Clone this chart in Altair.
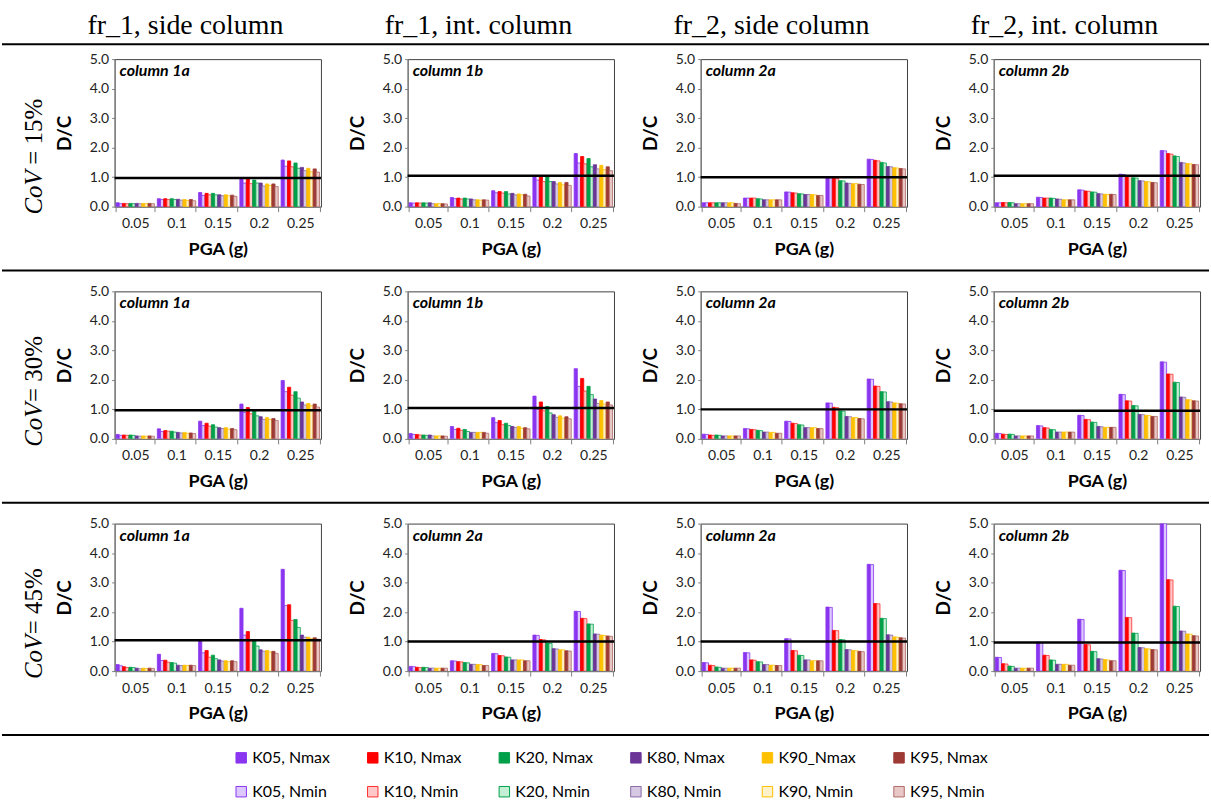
import altair as alt
import pandas as pd

pga_labels = ["0.05", "0.1", "0.15", "0.2", "0.25"]
series_names = ["K05, Nmax", "K05, Nmin", "K10, Nmax", "K10, Nmin", "K20, Nmax", "K20, Nmin",
                "K80, Nmax", "K80, Nmin", "K90_Nmax", "K90, Nmin", "K95, Nmax", "K95, Nmin"]
fill_colors = ["#8a35f0", "#dcc8ff", "#ff0000", "#ffc8c8", "#00a04a", "#c4efd4",
               "#6b3598", "#d6c8e2", "#ffc000", "#fff2c8", "#9e3a36", "#e8c8c6"]
stroke_colors = ["#8a35f0", "#8a35f0", "#ff0000", "#ff3030", "#00a04a", "#00a04a",
                 "#6b3598", "#8a6aa8", "#ffc000", "#ffc000", "#9e3a36", "#b06a66"]
col_headers = ["fr_1, side column", "fr_1, int. column", "fr_2, side column", "fr_2, int. column"]
row_cov = ["= 15%", "= 30%", "= 45%"]
panel_labels = [["column 1a", "column 1b", "column 2a", "column 2b"],
                ["column 1a", "column 1b", "column 2a", "column 2b"],
                ["column 1a", "column 2a", "column 2a", "column 2b"]]
ref_lines = [[0.97, 1.05, 1.0, 1.05],
             [0.97, 1.05, 1.0, 0.95],
             [1.05, 1.0, 1.0, 0.97]]

# values per panel: 5 PGA groups x 12 series (order of series_names)
cov15_col1a = [
    [0.13, 0.10, 0.11, 0.10, 0.11, 0.10, 0.11, 0.10, 0.11, 0.10, 0.11, 0.10],
    [0.27, 0.24, 0.27, 0.24, 0.27, 0.24, 0.25, 0.22, 0.24, 0.21, 0.24, 0.20],
    [0.48, 0.38, 0.45, 0.40, 0.45, 0.40, 0.40, 0.37, 0.40, 0.37, 0.39, 0.35],
    [0.98, 0.80, 0.96, 0.78, 0.90, 0.80, 0.80, 0.70, 0.77, 0.72, 0.77, 0.68],
    [1.58, 1.37, 1.55, 1.35, 1.48, 1.30, 1.33, 1.22, 1.30, 1.18, 1.28, 1.17]]
cov15_col1b = [
    [0.13, 0.12, 0.13, 0.12, 0.13, 0.12, 0.13, 0.10, 0.10, 0.10, 0.10, 0.09],
    [0.31, 0.27, 0.29, 0.26, 0.29, 0.26, 0.26, 0.23, 0.23, 0.22, 0.23, 0.22],
    [0.54, 0.47, 0.51, 0.46, 0.51, 0.43, 0.45, 0.40, 0.43, 0.40, 0.42, 0.36],
    [1.05, 0.90, 1.05, 0.85, 1.02, 0.85, 0.85, 0.77, 0.82, 0.74, 0.82, 0.72],
    [1.80, 1.48, 1.70, 1.45, 1.63, 1.35, 1.42, 1.28, 1.40, 1.25, 1.35, 1.22]]
cov15_col2a = [
    [0.13, 0.13, 0.13, 0.13, 0.13, 0.13, 0.13, 0.13, 0.13, 0.13, 0.11, 0.10],
    [0.29, 0.29, 0.29, 0.29, 0.27, 0.26, 0.23, 0.23, 0.23, 0.23, 0.23, 0.23],
    [0.50, 0.49, 0.47, 0.46, 0.44, 0.43, 0.41, 0.41, 0.41, 0.40, 0.38, 0.38],
    [1.00, 0.98, 0.96, 0.95, 0.88, 0.87, 0.80, 0.79, 0.78, 0.78, 0.76, 0.75],
    [1.61, 1.60, 1.57, 1.55, 1.50, 1.48, 1.36, 1.35, 1.32, 1.31, 1.29, 1.28]]
cov15_col2b = [
    [0.13, 0.13, 0.14, 0.13, 0.14, 0.13, 0.10, 0.10, 0.10, 0.10, 0.10, 0.10],
    [0.32, 0.31, 0.29, 0.29, 0.29, 0.28, 0.26, 0.25, 0.23, 0.23, 0.23, 0.23],
    [0.57, 0.56, 0.53, 0.52, 0.50, 0.49, 0.44, 0.43, 0.42, 0.41, 0.42, 0.41],
    [1.10, 1.09, 1.05, 1.04, 0.98, 0.97, 0.88, 0.87, 0.85, 0.84, 0.82, 0.81],
    [1.90, 1.89, 1.80, 1.78, 1.72, 1.70, 1.50, 1.48, 1.46, 1.45, 1.43, 1.42]]
cov30_col1a = [
    [0.15, 0.12, 0.13, 0.12, 0.13, 0.12, 0.10, 0.09, 0.10, 0.09, 0.10, 0.09],
    [0.34, 0.25, 0.28, 0.26, 0.26, 0.23, 0.22, 0.20, 0.22, 0.19, 0.20, 0.18],
    [0.60, 0.45, 0.53, 0.43, 0.48, 0.40, 0.38, 0.35, 0.38, 0.33, 0.35, 0.31],
    [1.18, 0.90, 1.06, 0.85, 0.95, 0.78, 0.75, 0.66, 0.72, 0.66, 0.69, 0.62],
    [1.98, 1.60, 1.75, 1.48, 1.60, 1.38, 1.25, 1.15, 1.20, 1.12, 1.18, 1.08]]
cov30_col1b = [
    [0.18, 0.15, 0.15, 0.13, 0.13, 0.12, 0.13, 0.10, 0.10, 0.10, 0.10, 0.09],
    [0.42, 0.32, 0.36, 0.29, 0.32, 0.25, 0.22, 0.22, 0.22, 0.22, 0.22, 0.19],
    [0.72, 0.55, 0.62, 0.48, 0.53, 0.45, 0.42, 0.39, 0.42, 0.36, 0.38, 0.34],
    [1.45, 1.00, 1.25, 0.95, 1.10, 0.88, 0.82, 0.73, 0.78, 0.70, 0.75, 0.68],
    [2.38, 1.78, 2.05, 1.62, 1.78, 1.50, 1.35, 1.20, 1.30, 1.18, 1.25, 1.15]]
cov30_col2a = [
    [0.16, 0.15, 0.13, 0.12, 0.13, 0.12, 0.10, 0.10, 0.10, 0.10, 0.10, 0.10],
    [0.35, 0.34, 0.32, 0.31, 0.29, 0.28, 0.23, 0.23, 0.22, 0.22, 0.19, 0.19],
    [0.60, 0.59, 0.53, 0.52, 0.48, 0.47, 0.38, 0.38, 0.38, 0.38, 0.35, 0.35],
    [1.22, 1.21, 1.07, 1.06, 0.95, 0.94, 0.76, 0.75, 0.72, 0.72, 0.69, 0.68],
    [2.03, 2.02, 1.79, 1.78, 1.60, 1.59, 1.26, 1.25, 1.22, 1.21, 1.19, 1.18]]
cov30_col2b = [
    [0.19, 0.18, 0.16, 0.15, 0.16, 0.15, 0.10, 0.10, 0.10, 0.10, 0.10, 0.10],
    [0.45, 0.44, 0.38, 0.37, 0.32, 0.31, 0.23, 0.23, 0.23, 0.23, 0.23, 0.23],
    [0.80, 0.79, 0.66, 0.65, 0.57, 0.56, 0.42, 0.41, 0.39, 0.39, 0.39, 0.39],
    [1.51, 1.50, 1.29, 1.28, 1.13, 1.12, 0.83, 0.82, 0.80, 0.79, 0.76, 0.76],
    [2.61, 2.60, 2.20, 2.19, 1.92, 1.91, 1.42, 1.41, 1.33, 1.32, 1.29, 1.28]]
cov45_col1a = [
    [0.22, 0.18, 0.15, 0.12, 0.13, 0.12, 0.10, 0.08, 0.10, 0.09, 0.10, 0.09],
    [0.57, 0.36, 0.37, 0.30, 0.29, 0.27, 0.20, 0.19, 0.20, 0.19, 0.20, 0.19],
    [1.02, 0.62, 0.70, 0.47, 0.54, 0.42, 0.38, 0.34, 0.35, 0.32, 0.35, 0.32],
    [2.13, 1.22, 1.34, 1.02, 1.03, 0.85, 0.72, 0.67, 0.70, 0.65, 0.67, 0.60],
    [3.45, 2.22, 2.25, 1.72, 1.75, 1.48, 1.22, 1.15, 1.15, 1.10, 1.13, 1.08]]
cov45_col2a_int = [
    [0.16, 0.15, 0.13, 0.12, 0.13, 0.12, 0.10, 0.10, 0.10, 0.10, 0.10, 0.10],
    [0.35, 0.34, 0.32, 0.31, 0.29, 0.28, 0.23, 0.23, 0.22, 0.22, 0.19, 0.19],
    [0.60, 0.59, 0.53, 0.52, 0.48, 0.47, 0.38, 0.38, 0.38, 0.38, 0.35, 0.35],
    [1.22, 1.21, 1.07, 1.06, 0.95, 0.94, 0.76, 0.75, 0.72, 0.72, 0.69, 0.68],
    [2.03, 2.02, 1.79, 1.78, 1.60, 1.59, 1.26, 1.25, 1.22, 1.21, 1.19, 1.18]]
cov45_col2a = [
    [0.29, 0.28, 0.20, 0.19, 0.14, 0.13, 0.10, 0.10, 0.10, 0.10, 0.10, 0.10],
    [0.63, 0.62, 0.38, 0.37, 0.32, 0.31, 0.22, 0.22, 0.20, 0.20, 0.19, 0.19],
    [1.10, 1.09, 0.70, 0.69, 0.54, 0.53, 0.38, 0.38, 0.35, 0.35, 0.35, 0.35],
    [2.17, 2.16, 1.38, 1.37, 1.07, 1.06, 0.73, 0.72, 0.70, 0.69, 0.67, 0.66],
    [3.62, 3.61, 2.29, 2.28, 1.79, 1.78, 1.23, 1.22, 1.16, 1.15, 1.13, 1.12]]
cov45_col2b = [
    [0.47, 0.46, 0.25, 0.24, 0.17, 0.16, 0.10, 0.10, 0.10, 0.10, 0.10, 0.10],
    [0.98, 0.97, 0.54, 0.53, 0.38, 0.37, 0.23, 0.23, 0.23, 0.23, 0.20, 0.20],
    [1.76, 1.75, 0.90, 0.89, 0.67, 0.66, 0.42, 0.41, 0.39, 0.38, 0.35, 0.35],
    [3.42, 3.41, 1.82, 1.81, 1.29, 1.28, 0.80, 0.79, 0.76, 0.75, 0.73, 0.72],
    [5.00, 5.00, 3.10, 3.09, 2.20, 2.19, 1.36, 1.35, 1.26, 1.25, 1.20, 1.19]]

panel_values = [[cov15_col1a, cov15_col1b, cov15_col2a, cov15_col2b],
                [cov30_col1a, cov30_col1b, cov30_col2a, cov30_col2b],
                [cov45_col1a, cov45_col2a_int, cov45_col2a, cov45_col2b]]

PW, PH = 207, 148
FONT = "Lato"

fill_scale = alt.Scale(domain=series_names, range=fill_colors)
stroke_scale = alt.Scale(domain=series_names, range=stroke_colors)

x_axis = alt.Axis(title="PGA (g)", labelAngle=0, tickBand="extent", tickSize=5,
                  labelPadding=5, titlePadding=10, labelFontSize=14,
                  titleFontSize=18, titleFontWeight="bold")
y_axis = alt.Axis(title="D/C", values=[0, 1, 2, 3, 4, 5], format=".1f", tickSize=3,
                  labelPadding=3, titlePadding=15, labelFontSize=14,
                  titleFontSize=19, titleFontWeight="bold")
y_scale = alt.Scale(domain=[0, 5], nice=False, zero=True)


def panel(r, c):
    vals = panel_values[r][c]
    recs = []
    for gi, g in enumerate(pga_labels):
        for si, s in enumerate(series_names):
            recs.append({"pga": g, "series": s, "dc": vals[gi][si]})
    df = pd.DataFrame(recs)
    bars = alt.Chart(df).mark_bar(strokeWidth=0.8, clip=True).encode(
        x=alt.X("pga:N", sort=pga_labels,
                scale=alt.Scale(paddingInner=0.07, paddingOuter=0.035), axis=x_axis),
        xOffset=alt.XOffset("series:N", sort=series_names,
                            scale=alt.Scale(paddingInner=0, paddingOuter=0)),
        y=alt.Y("dc:Q", scale=y_scale, axis=y_axis),
        fill=alt.Fill("series:N", scale=fill_scale, legend=None),
        stroke=alt.Stroke("series:N", scale=stroke_scale, legend=None),
    )
    rule = alt.Chart(pd.DataFrame({"dc": [ref_lines[r][c]]})).mark_rule(
        color="black", strokeWidth=2.5).encode(y=alt.Y("dc:Q", scale=y_scale, axis=y_axis))
    lab = alt.Chart(pd.DataFrame({"t": [panel_labels[r][c]]})).mark_text(
        align="left", baseline="top", font=FONT, fontSize=16, fontWeight="bold",
        fontStyle="italic", color="black").encode(
        x=alt.value(5), y=alt.value(4), text="t:N")
    layers = [bars, rule, lab]
    if r == 0:
        hdr = alt.Chart(pd.DataFrame({"t": [col_headers[c]]})).mark_text(
            align="center", baseline="middle", font="Liberation Serif", fontSize=28,
            color="black").encode(x=alt.value(71), y=alt.value(-33), text="t:N")
        layers.append(hdr)
    if c == 0:
        seps = [PH + 64]
        if r == 0:
            seps = [-15, PH + 64]
        for yv in seps:
            layers.append(alt.Chart(pd.DataFrame({"k": [0]})).mark_rule(
                color="black", strokeWidth=2).encode(
                x=alt.value(-113), x2=alt.value(1098), y=alt.value(yv)))
        if r == 0:
            layers.append(alt.Chart(pd.DataFrame({"k": [0]})).mark_rule(
                color="white", strokeOpacity=0, strokeWidth=1).encode(
                x=alt.value(-113), x2=alt.value(0), y=alt.value(-57)))
        cov = alt.Chart(pd.DataFrame({"t": ["CoV"]})).mark_text(
            align="left", baseline="middle", angle=270, font="Liberation Serif",
            fontSize=25, fontStyle="italic", color="black").encode(
            x=alt.value(-81), y=alt.value(156), text="t:N")
        pct = alt.Chart(pd.DataFrame({"t": [row_cov[r]]})).mark_text(
            align="left", baseline="middle", angle=270, font="Liberation Serif",
            fontSize=25, color="black").encode(
            x=alt.value(-81), y=alt.value(106 if r == 0 else 111), text="t:N")
        layers += [cov, pct]
    return alt.layer(*layers).properties(width=PW, height=PH)


cells = []
for r in range(3):
    for c in range(4):
        cells.append(panel(r, c))

leg_df = pd.DataFrame({
    "series": series_names,
    "col": [i // 2 for i in range(len(series_names))],
    "row": [i % 2 for i in range(len(series_names))],
})
lx = alt.X("col:Q", scale=alt.Scale(domain=[0, 5], range=[127, 787]), axis=None)
ly = alt.Y("row:Q", scale=alt.Scale(domain=[0, 1], range=[2, 36]), axis=None)
leg_sq = alt.Chart(leg_df).mark_square(size=110, strokeWidth=1, opacity=1).encode(
    x=lx, y=ly,
    fill=alt.Fill("series:N", scale=fill_scale, legend=None),
    stroke=alt.Stroke("series:N", scale=stroke_scale, legend=None))
leg_tx = alt.Chart(leg_df).mark_text(align="left", baseline="middle", dx=11,
                                      font=FONT, fontSize=16, color="black").encode(
    x=lx, y=ly, text="series:N")
legend = alt.layer(leg_sq, leg_tx).properties(
    width=PW, height=38, view=alt.ViewBackground(stroke="transparent"))
cells.append(legend)

chart = alt.concat(*cells, columns=4, spacing={"row": 85, "column": 87},
                   bounds="flush").properties(
    padding=0, background="white"
).configure_view(stroke="#404040", strokeWidth=1).configure_axis(
    labelFont=FONT, titleFont=FONT, grid=False, domainColor="#808080",
    tickColor="#808080", labelColor="#222222", titleColor="black")

chart.save("out.html", embed_options={"renderer": "svg", "actions": False})
